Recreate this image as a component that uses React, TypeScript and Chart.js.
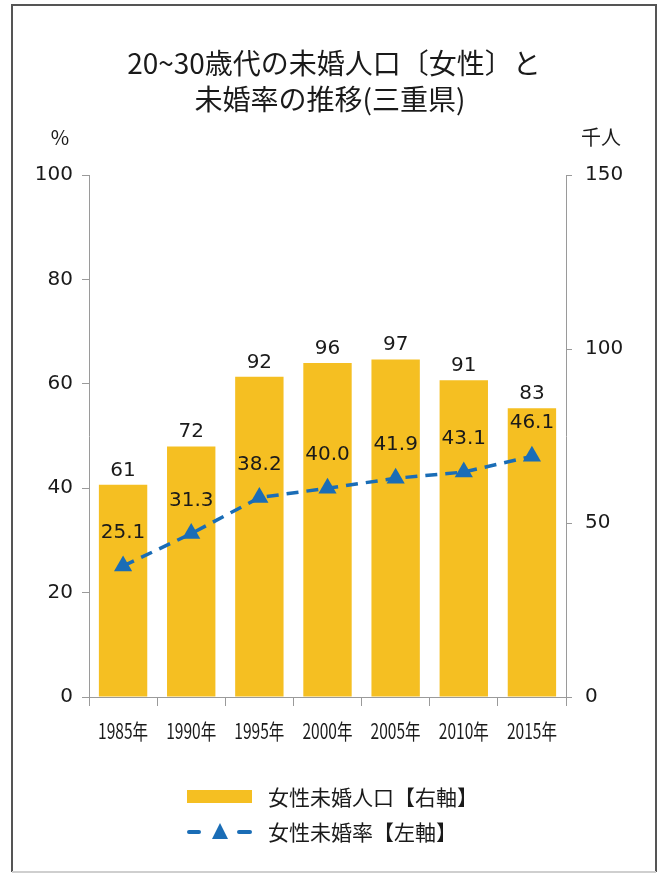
import React, { useEffect, useRef } from 'react';
import { Chart, registerables } from 'chart.js';

Chart.register(...registerables);

const categories = ['1985年', '1990年', '1995年', '2000年', '2005年', '2010年', '2015年'];
const populationValues = [61, 72, 92, 96, 97, 91, 83]; // 千人 (right axis)
const rateValues = [25.1, 31.3, 38.2, 40.0, 41.9, 43.1, 46.1]; // % (left axis)
const leftAxis = { min: 0, max: 100, step: 20, unit: '%' };
const rightAxis = { min: 0, max: 150, step: 50, unit: '千人' };
const titleLines = ['20~30歳代の未婚人口〔女性〕と', '未婚率の推移(三重県)'];
const legendLabels = ['女性未婚人口【右軸】', '女性未婚率【左軸】'];

const BAR_COLOR = '#F5BF22';
const LINE_COLOR = '#1A6DB6';
const TEXT_COLOR = '#1a1a1a';
const AXIS_COLOR = '#9a9a9a';
const JP = '"Noto Sans CJK JP", "Noto Sans", sans-serif';
const NUM = '"DejaVu Sans", "Noto Sans", sans-serif';

const W = 658;
const H = 874;

const decorPlugin = {
  id: 'decor',
  afterDraw(chart: any) {
    const ctx = chart.ctx as CanvasRenderingContext2D;
    ctx.save();

    // frame
    ctx.lineWidth = 2;
    ctx.strokeStyle = '#555';
    ctx.beginPath();
    ctx.moveTo(12, 872);
    ctx.lineTo(12, 5);
    ctx.lineTo(656, 5);
    ctx.lineTo(656, 872);
    ctx.stroke();
    ctx.strokeStyle = '#cfcfcf';
    ctx.beginPath();
    ctx.moveTo(12, 872);
    ctx.lineTo(656, 872);
    ctx.stroke();

    // title
    ctx.fillStyle = TEXT_COLOR;
    ctx.textAlign = 'center';
    ctx.textBaseline = 'middle';
    ctx.font = `400 28px ${JP}`;
    ctx.fillText(titleLines[0], 334, 63);
    ctx.fillText(titleLines[1], 330, 99);

    // unit labels
    ctx.font = `20px ${JP}`;
    ctx.fillText(leftAxis.unit, 60, 137);
    ctx.fillText(rightAxis.unit, 601, 137);

    // x category labels (condensed)
    const xs = chart.scales.x;
    ctx.font = `21px ${JP}`;
    categories.forEach((c, i) => {
      const px = xs.getPixelForValue(i);
      ctx.save();
      ctx.translate(px, 731);
      ctx.scale(0.74, 1);
      ctx.fillText(c, 0, 0);
      ctx.restore();
    });

    // data labels
    ctx.font = `20px ${NUM}`;
    ctx.textBaseline = 'alphabetic';
    const barMeta = chart.getDatasetMeta(1);
    barMeta.data.forEach((el: any, i: number) => {
      ctx.fillText(String(populationValues[i]), el.x, el.y - 9);
    });
    const lineMeta = chart.getDatasetMeta(0);
    lineMeta.data.forEach((el: any, i: number) => {
      ctx.fillText(rateValues[i].toFixed(1), el.x, el.y - 28);
    });

    // legend
    ctx.fillStyle = BAR_COLOR;
    ctx.fillRect(187, 790, 65, 13);
    ctx.strokeStyle = LINE_COLOR;
    ctx.lineWidth = 4;
    ctx.lineCap = 'round';
    ctx.beginPath();
    ctx.moveTo(189, 832);
    ctx.lineTo(199, 832);
    ctx.moveTo(239, 832);
    ctx.lineTo(250, 832);
    ctx.stroke();
    ctx.fillStyle = LINE_COLOR;
    ctx.beginPath();
    ctx.moveTo(220, 823);
    ctx.lineTo(228, 839);
    ctx.lineTo(212, 839);
    ctx.closePath();
    ctx.fill();

    ctx.fillStyle = TEXT_COLOR;
    ctx.textAlign = 'left';
    ctx.textBaseline = 'middle';
    ctx.font = `21px ${JP}`;
    ctx.fillText(legendLabels[0], 268, 797);
    ctx.fillText(legendLabels[1], 268, 832);

    ctx.restore();
  },
};

export default function App() {
  const canvasRef = useRef<HTMLCanvasElement | null>(null);

  useEffect(() => {
    const canvas = canvasRef.current;
    if (!canvas) return;
    const chart = new Chart(canvas, {
      type: 'bar',
      data: {
        labels: categories,
        datasets: [
          {
            type: 'line',
            label: legendLabels[1],
            data: rateValues,
            yAxisID: 'yL',
            borderColor: LINE_COLOR,
            backgroundColor: LINE_COLOR,
            borderWidth: 3.5,
            borderDash: [12, 8],
            pointStyle: 'triangle',
            pointRadius: 10.5,
            pointBorderWidth: 0,
            pointBackgroundColor: LINE_COLOR,
            tension: 0,
            order: 0,
          } as any,
          {
            type: 'bar',
            label: legendLabels[0],
            data: populationValues,
            yAxisID: 'yR',
            backgroundColor: BAR_COLOR,
            barPercentage: 0.71,
            categoryPercentage: 1,
            order: 1,
          } as any,
        ],
      },
      options: {
        responsive: false,
        animation: false,
        devicePixelRatio: 1,
        layout: { padding: { top: 175, left: 0, right: 0, bottom: 0 } },
        plugins: {
          legend: { display: false },
          title: { display: false },
          tooltip: { enabled: false },
        },
        scales: {
          x: {
            type: 'category',
            offset: true,
            grid: {
              offset: true,
              drawOnChartArea: false,
              drawTicks: true,
              tickLength: 9,
              color: AXIS_COLOR,
            },
            border: { display: true, color: AXIS_COLOR, width: 1 },
            ticks: {
              display: false,
              autoSkip: false,
            },
            afterFit(scale: any) {
              scale.height = H - 697;
            },
          },
          yL: {
            type: 'linear',
            position: 'left',
            min: leftAxis.min,
            max: leftAxis.max,
            ticks: {
              stepSize: leftAxis.step,
              color: TEXT_COLOR,
              font: { family: NUM, size: 20 },
              padding: 9,
            },
            grid: {
              drawOnChartArea: false,
              drawTicks: true,
              tickLength: 7,
              color: AXIS_COLOR,
            },
            border: { display: true, color: AXIS_COLOR, width: 1 },
            afterFit(scale: any) {
              scale.width = 89;
            },
          },
          yR: {
            type: 'linear',
            position: 'right',
            min: rightAxis.min,
            max: rightAxis.max,
            ticks: {
              stepSize: rightAxis.step,
              color: TEXT_COLOR,
              font: { family: NUM, size: 20 },
              padding: 13,
            },
            grid: {
              drawOnChartArea: false,
              drawTicks: true,
              tickLength: 6,
              color: AXIS_COLOR,
            },
            border: { display: true, color: AXIS_COLOR, width: 1 },
            afterFit(scale: any) {
              scale.width = W - 566;
            },
          },
        },
      } as any,
      plugins: [decorPlugin],
    });
    return () => chart.destroy();
  }, []);

  return (
    <div style={{ position: 'absolute', left: 0, top: 0, width: W, height: H, background: '#fff' }}>
      <canvas ref={canvasRef} width={W} height={H} style={{ width: W, height: H, display: 'block' }} />
    </div>
  );
}
